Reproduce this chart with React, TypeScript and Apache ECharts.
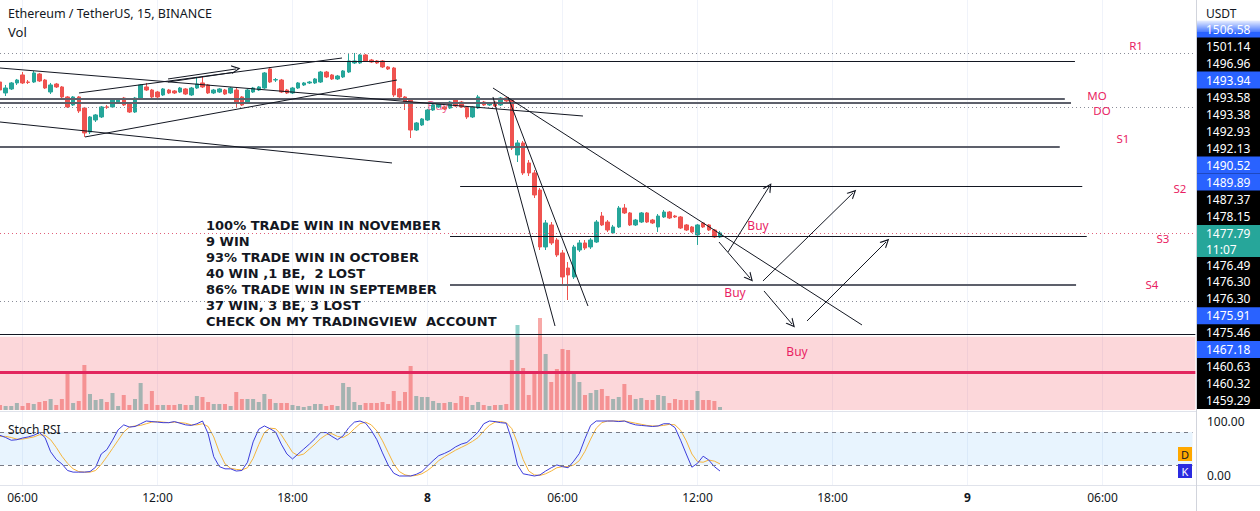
import React, { useEffect, useRef } from "react";
import * as echarts from "echarts";

const FONT = "'Noto Sans', 'DejaVu Sans', sans-serif";
const NOTE_FONT = "'DejaVu Sans', 'Noto Sans', sans-serif";

// 15-minute candles, 7th 05:00 -> 8th 13:00 : [open, close, low, high]
const candles: number[][] = [
  [1496.65, 1495.65, 1495.53, 1497.03], [1495.28, 1495.90, 1494.90, 1496.28], [1495.78, 1496.53, 1495.65, 1496.65],
  [1496.53, 1496.90, 1496.28, 1497.03], [1497.53, 1496.53, 1496.40, 1497.90], [1496.65, 1496.60, 1496.40, 1496.90],
  [1496.65, 1497.78, 1496.53, 1498.03], [1497.65, 1496.78, 1496.65, 1497.78], [1496.90, 1495.90, 1495.78, 1497.03],
  [1495.40, 1496.28, 1495.15, 1496.53], [1496.40, 1496.03, 1495.90, 1496.53], [1496.03, 1494.78, 1494.65, 1496.15],
  [1494.78, 1493.53, 1493.40, 1494.90], [1493.78, 1494.78, 1493.65, 1494.90], [1494.78, 1493.03, 1492.78, 1494.90],
  [1493.40, 1490.28, 1489.78, 1493.53], [1490.40, 1492.28, 1490.15, 1492.40], [1491.90, 1492.53, 1491.65, 1492.65],
  [1492.28, 1493.53, 1492.15, 1493.65], [1493.53, 1493.50, 1493.28, 1493.78], [1493.53, 1494.53, 1493.40, 1494.65],
  [1494.03, 1494.53, 1493.90, 1494.65], [1494.65, 1493.78, 1493.65, 1494.78], [1494.03, 1492.90, 1492.78, 1494.15],
  [1492.90, 1494.65, 1492.78, 1494.78], [1494.65, 1496.28, 1494.53, 1496.40], [1496.03, 1495.65, 1495.53, 1496.53],
  [1495.65, 1494.78, 1494.65, 1495.78], [1495.40, 1494.78, 1494.65, 1495.53], [1495.03, 1495.78, 1494.90, 1495.90],
  [1495.65, 1495.28, 1495.15, 1495.78], [1495.53, 1495.28, 1495.15, 1495.65], [1495.40, 1495.90, 1495.28, 1496.03],
  [1495.78, 1495.15, 1495.03, 1495.90], [1495.03, 1495.90, 1494.90, 1496.03], [1495.90, 1496.40, 1495.78, 1497.28],
  [1496.53, 1496.03, 1495.90, 1497.28], [1496.28, 1495.28, 1495.15, 1496.40], [1495.28, 1495.65, 1495.15, 1495.78],
  [1495.40, 1495.78, 1495.28, 1495.90], [1495.65, 1495.15, 1495.03, 1495.78], [1495.28, 1495.90, 1495.15, 1496.03],
  [1495.65, 1494.15, 1493.53, 1495.90], [1494.78, 1493.78, 1493.65, 1494.90], [1494.15, 1495.65, 1494.03, 1495.78],
  [1495.40, 1495.90, 1495.28, 1496.03], [1495.65, 1496.03, 1495.53, 1496.15], [1495.90, 1497.78, 1495.78, 1497.90],
  [1498.28, 1496.65, 1496.53, 1498.53], [1496.90, 1496.95, 1496.65, 1497.15], [1496.90, 1495.40, 1495.28, 1497.03],
  [1495.65, 1495.28, 1495.15, 1495.78], [1495.28, 1495.90, 1495.15, 1496.03], [1495.90, 1496.53, 1495.78, 1496.65],
  [1496.28, 1496.53, 1496.15, 1496.65], [1496.53, 1496.65, 1496.40, 1496.78], [1496.53, 1497.03, 1496.40, 1497.15],
  [1496.65, 1497.90, 1496.53, 1498.03], [1497.90, 1497.28, 1497.15, 1498.03], [1497.53, 1497.03, 1496.90, 1497.65],
  [1497.03, 1497.40, 1496.90, 1497.53], [1497.28, 1498.03, 1497.15, 1498.15], [1497.90, 1499.28, 1497.78, 1500.28],
  [1499.03, 1499.28, 1498.90, 1500.28], [1499.03, 1500.03, 1498.90, 1500.15], [1500.03, 1499.28, 1499.15, 1500.15],
  [1499.40, 1499.15, 1499.03, 1499.53], [1499.28, 1499.03, 1498.90, 1499.40], [1499.28, 1498.53, 1498.40, 1499.40],
  [1498.53, 1498.28, 1498.15, 1498.65], [1498.40, 1495.03, 1494.78, 1498.53], [1495.78, 1494.78, 1494.65, 1495.90],
  [1494.78, 1494.15, 1493.15, 1494.90], [1494.40, 1490.65, 1489.65, 1494.53], [1490.65, 1491.53, 1490.53, 1491.65],
  [1491.28, 1492.03, 1491.15, 1492.15], [1491.90, 1493.15, 1491.78, 1493.28], [1493.15, 1493.78, 1493.03, 1493.90],
  [1493.53, 1493.90, 1493.40, 1494.03], [1493.53, 1493.28, 1493.15, 1493.65], [1493.40, 1494.15, 1493.28, 1494.28],
  [1494.40, 1493.65, 1493.53, 1494.53], [1494.15, 1493.53, 1493.40, 1494.28], [1493.53, 1492.28, 1492.03, 1493.65],
  [1492.28, 1493.53, 1492.15, 1493.65], [1493.40, 1494.78, 1493.28, 1495.03], [1494.15, 1493.78, 1493.65, 1494.28],
  [1493.78, 1494.03, 1493.65, 1494.15], [1494.15, 1493.65, 1493.53, 1494.28], [1493.78, 1494.65, 1493.65, 1494.78],
  [1494.65, 1494.28, 1494.15, 1494.78], [1494.40, 1488.40, 1488.15, 1494.53], [1487.53, 1489.03, 1486.65, 1489.40],
  [1489.03, 1485.28, 1485.03, 1489.28], [1486.53, 1485.28, 1484.90, 1486.90], [1485.28, 1482.53, 1482.15, 1485.65],
  [1483.15, 1476.03, 1475.65, 1483.40], [1476.03, 1479.03, 1475.65, 1479.40], [1478.78, 1476.53, 1476.28, 1479.15],
  [1476.90, 1475.03, 1474.78, 1477.15], [1475.28, 1472.28, 1471.40, 1475.65], [1473.40, 1472.53, 1469.40, 1474.15],
  [1472.28, 1476.03, 1472.03, 1476.28], [1475.65, 1476.53, 1475.40, 1476.90], [1476.53, 1475.90, 1475.65, 1476.90],
  [1476.03, 1476.90, 1475.78, 1477.15], [1476.65, 1479.15, 1476.53, 1479.40], [1479.90, 1478.78, 1478.65, 1480.40],
  [1479.15, 1478.15, 1477.90, 1479.40], [1477.78, 1478.53, 1477.65, 1478.78], [1478.53, 1480.90, 1478.40, 1481.15],
  [1480.90, 1480.28, 1480.15, 1481.40], [1480.28, 1478.78, 1478.65, 1480.40], [1478.78, 1479.40, 1478.65, 1479.53],
  [1479.15, 1480.28, 1479.03, 1480.40], [1480.28, 1479.15, 1479.03, 1480.40], [1479.40, 1479.03, 1478.90, 1479.53],
  [1478.53, 1479.90, 1477.90, 1480.15], [1479.78, 1480.40, 1479.65, 1480.65], [1480.40, 1479.65, 1479.53, 1480.53],
  [1479.90, 1479.78, 1479.65, 1480.03], [1479.78, 1478.40, 1478.28, 1479.90], [1478.78, 1478.15, 1478.03, 1478.90],
  [1478.53, 1477.90, 1477.78, 1478.65], [1477.53, 1478.78, 1476.28, 1478.90], [1479.03, 1478.53, 1478.40, 1479.15],
  [1478.78, 1478.15, 1478.03, 1478.90], [1478.15, 1477.28, 1477.15, 1478.28], [1477.28, 1477.79, 1477.15, 1478.03],
];

// volume per candle (hundreds of ETH)
const volumes: number[] = [
  5, 4, 4, 7, 4, 7, 6, 8, 9, 11, 5, 11, 37, 7, 9, 45, 16, 10, 11, 8,
  17, 4, 15, 5, 11, 27, 6, 19, 5, 5, 5, 5, 6, 5, 5, 14, 13, 8, 6, 6,
  6, 4, 18, 11, 11, 11, 8, 16, 11, 7, 7, 7, 5, 4, 3, 4, 6, 6, 4, 5,
  4, 27, 23, 8, 5, 7, 7, 7, 8, 6, 19, 9, 18, 44, 14, 13, 13, 9, 7, 7,
  8, 7, 14, 13, 5, 8, 5, 4, 5, 5, 6, 50, 85, 42, 15, 37, 92, 56, 28, 41,
  61, 60, 36, 28, 15, 17, 20, 21, 14, 11, 13, 26, 15, 11, 12, 10, 10, 15, 14, 7,
  11, 10, 10, 10, 19, 10, 10, 9, 3,
];

const stochK: number[] = [
  74, 70, 65, 66, 69, 71, 74, 79, 70, 44, 30, 22, 10, 7, 7, 7, 8, 16, 40, 48,
  65, 84, 93, 89, 90, 95, 100, 99, 98, 97, 97, 99, 96, 93, 92, 95, 100, 77, 35, 17,
  13, 13, 9, 10, 25, 62, 85, 91, 86, 80, 58, 40, 31, 40, 49, 58, 68, 79, 79, 72,
  66, 73, 88, 98, 100, 96, 83, 66, 42, 20, 5, 0, 0, 0, 3, 8, 18, 28, 37, 41,
  46, 53, 58, 61, 70, 80, 95, 100, 99, 97, 96, 65, 20, 4, 2, 0, 2, 9, 15, 20,
  17, 15, 27, 41, 68, 92, 100, 100, 100, 100, 99, 100, 96, 93, 92, 91, 90, 91, 95, 95,
  88, 65, 40, 16, 23, 36, 29, 17, 9,
];
const stochD: number[] = [
  72, 72, 70, 67, 67, 69, 71, 75, 74, 66, 52, 36, 23, 13, 8, 7, 7, 10, 21, 35,
  50, 65, 80, 89, 91, 92, 95, 98, 99, 98, 97, 98, 97, 96, 93, 93, 95, 90, 71, 43,
  22, 14, 12, 11, 15, 32, 57, 79, 87, 86, 75, 59, 43, 37, 40, 49, 58, 68, 75, 77,
  72, 70, 76, 86, 95, 98, 93, 82, 64, 43, 22, 8, 2, 0, 1, 4, 10, 18, 28, 35,
  41, 47, 52, 57, 63, 70, 82, 92, 98, 99, 97, 86, 60, 30, 9, 2, 1, 4, 9, 15,
  17, 17, 20, 28, 45, 67, 87, 97, 100, 100, 100, 100, 98, 96, 94, 92, 91, 91, 92, 94,
  93, 83, 64, 40, 26, 25, 29, 27, 22,
];

const tickIndex = [4, 28, 52, 76, 100, 124, 148, 172, 196];
const tickLabels = ["06:00", "12:00", "18:00", "8", "06:00", "12:00", "18:00", "9", "06:00"];
const SLOTS = 213;

// drawings: horizontal levels [startIndex, endIndex, price]
const solidLevels = [[0, 191.1, 1499.28], [81.8, 192.4, 1483.65], [80, 193.2, 1477.4], [0, 212.5, 1465.1]];
const greyLevels = [[0, 189.3, 1494.53], [0, 190.4, 1494.03], [0, 188.4, 1488.53], [80, 191.3, 1471.28]];
const dottedLevels = [[0, 212.5, 1500.28], [0, 212.5, 1493.53], [0, 212.5, 1469.28]];
const priceLevel = [[0, 212.5, 1477.78]];
const redLevel = [[0, 212.5, 1460.4]];
const zoneBox = [[0, 1464.8, 212.5, 1455.65]];
// trend lines [[index, price], [index, price]]
const trendLines = [
  [[0, 1498.4], [103.64, 1492.4]],
  [[0, 1491.65], [69.69, 1486.53]],
  [[15.11, 1489.78], [70.58, 1496.9]],
  [[14.04, 1495.28], [60.8, 1499.65]],
  [[29.87, 1496.65], [41.42, 1497.84]],
  [[87.64, 1495.9], [153.24, 1466.28]],
  [[87.64, 1494.78], [98.67, 1466.15]],
  [[90.31, 1494.78], [104.53, 1468.65]],
];
const arrowLines = [
  [[29.87, 1497.03], [41.96, 1498.28]],
  [[129.42, 1475.4], [136.71, 1483.53]],
  [[135.64, 1471.78], [151.64, 1482.78]],
  [[143.47, 1466.78], [157.51, 1476.65]],
  [[127.82, 1476.65], [133.33, 1472.15]],
  [[135.82, 1470.53], [140.8, 1466.4]],
];

const noteLines = [
  "100% TRADE WIN IN NOVEMBER",
  "9 WIN",
  "93% TRADE WIN IN OCTOBER",
  "40 WIN ,1 BE,  2 LOST",
  "86% TRADE WIN IN SEPTEMBER",
  "37 WIN, 3 BE, 3 LOST",
  "CHECK ON MY TRADINGVIEW  ACCOUNT",
];
const buyLabels = [[758, 225], [735, 292], [797, 351]];
const pivotLabels: [string, number, number][] = [
  ["R1", 1136, 45], ["MO", 1097, 95], ["DO", 1102, 110.5], ["S1", 1123, 138],
  ["S2", 1180, 188], ["S3", 1163, 238], ["S4", 1152, 284],
];
const axisTagsTop = ["1506.58", "1501.14", "1496.96", "1493.94", "1493.58", "1493.38", "1492.93", "1492.13", "1490.52", "1489.89", "1487.37", "1478.15"];
const axisTagsTopBlue = [true, false, false, true, false, false, false, false, true, true, false, false];
const axisTagsBottom = ["1476.49", "1476.30", "1476.30", "1475.91", "1475.46", "1467.18", "1460.63", "1460.32", "1459.29"];
const axisTagsBottomBlue = [false, false, false, true, false, true, false, false, false];
const lastPrice = "1477.79";
const countdown = "11:07";

const UP = "#26a69a";
const DOWN = "#ef5350";
const PLOT_W = 1192.5;
const PINK = "#e91e63";

function buildOption() {
  const categories = Array.from({ length: SLOTS }, (_, i) => {
    const m = 300 + 15 * i;
    const d = 7 + Math.floor(m / 1440);
    const mm = m % 1440;
    return `${d} ${String(Math.floor(mm / 60)).padStart(2, "0")}:${String(mm % 60).padStart(2, "0")}`;
  });
  const isTick = (i: number) => tickIndex.indexOf(i) >= 0;
  const levelData = (arr: number[][]) => arr.map((l) => ({ coords: [[l[0], l[2]], [l[1], l[2]]] }));
  const linesBase = {
    type: "lines",
    coordinateSystem: "cartesian2d",
    xAxisIndex: 3,
    yAxisIndex: 0,
    silent: true,
    clip: false,
    z: 5,
  };
  const graphic: any[] = [];
  const txt = (text: string, x: number, y: number, fill: string, font: string, align = "left", z = 20) =>
    graphic.push({ type: "text", x, y, z, style: { text, fill, font, align, verticalAlign: "middle" } });

  txt("Ethereum / TetherUS, 15, BINANCE", 8, 13, "#131722", `12.5px ${FONT}`);
  txt("Vol", 8, 32, "#131722", `13px ${FONT}`);
  txt("Stoch RSI", 8, 429, "#131722", `12px ${FONT}`);
  noteLines.forEach((t, i) => txt(t, 206, 225 + 16 * i, "#131722", `bold 13px ${NOTE_FONT}`));
  buyLabels.forEach((b) => txt("Buy", b[0], b[1], PINK, `12px ${FONT}`, "center"));
  graphic.push({ type: "text", x: 438, y: 105, z: 1, style: { text: "Buy", fill: PINK, font: `12px ${FONT}`, align: "center", verticalAlign: "middle", opacity: 0.7 } });
  pivotLabels.forEach((p) => txt(p[0], p[1], p[2], PINK, `11.5px ${FONT}`, "center"));

  // separators
  graphic.push({ type: "line", z: 30, shape: { x1: 0, y1: 411.5, x2: 1197, y2: 411.5 }, style: { stroke: "#e0e3eb", lineWidth: 1 } });
  graphic.push({ type: "line", z: 30, shape: { x1: 0, y1: 485.5, x2: 1260, y2: 485.5 }, style: { stroke: "#e0e3eb", lineWidth: 1 } });
  graphic.push({ type: "line", z: 30, shape: { x1: 1196.5, y1: 0, x2: 1196.5, y2: 511 }, style: { stroke: "#d1d4dc", lineWidth: 1 } });

  // right price tags
  txt("USDT", 1206, 13, "#131722", `12px ${FONT}`);
  graphic.push({ type: "rect", z: 40, shape: { x: 1197, y: 21, width: 63, height: 388 }, style: { fill: "#000000" } });
  axisTagsTop.forEach((t, i) => {
    const y = 29 + 17 * i;
    if (axisTagsTopBlue[i]) graphic.push({ type: "rect", z: 41, shape: { x: 1197, y: y - 8.5, width: 63, height: 17 }, style: { fill: "#2962ff" } });
    txt(t, 1206, y, "#ffffff", `12px ${FONT}`, "left", 42);
  });
  graphic.push({ type: "rect", z: 41, shape: { x: 1197, y: 225, width: 63, height: 32 }, style: { fill: UP } });
  txt(lastPrice, 1206, 233, "#ffffff", `12px ${FONT}`, "left", 42);
  txt(countdown, 1206, 249, "#ffffff", `12px ${FONT}`, "left", 42);
  axisTagsBottom.forEach((t, i) => {
    const y = 265 + 16.9 * i;
    if (axisTagsBottomBlue[i]) graphic.push({ type: "rect", z: 41, shape: { x: 1197, y: y - 8.5, width: 63, height: 17 }, style: { fill: "#2962ff" } });
    txt(t, 1206, y, "#ffffff", `12px ${FONT}`, "left", 42);
  });
  graphic.push({
    type: "rect", z: 43, shape: { x: 1197, y: 19, width: 63, height: 13 },
    style: { fill: new echarts.graphic.LinearGradient(0, 0, 0, 1, [{ offset: 0, color: "rgba(255,255,255,1)" }, { offset: 1, color: "rgba(255,255,255,0.15)" }]) },
  });
  // D / K badges
  graphic.push({ type: "rect", z: 40, shape: { x: 1178, y: 447, width: 14, height: 14 }, style: { fill: "#ffa800" } });
  txt("D", 1185, 454, "#131722", `11px ${FONT}`, "center", 41);
  graphic.push({ type: "rect", z: 40, shape: { x: 1178, y: 464, width: 14, height: 14 }, style: { fill: "#2b2be0" } });
  txt("K", 1185, 471, "#ffffff", `11px ${FONT}`, "center", 41);

  const splitV = { show: true, interval: (i: number) => isTick(i), lineStyle: { color: "#f0f3fa", width: 1 } };

  return {
    animation: false,
    backgroundColor: "#ffffff",
    textStyle: { fontFamily: FONT },
    grid: [
      { left: 0, top: 0, width: PLOT_W, height: 411 },
      { left: 0, top: 311, width: PLOT_W, height: 99 },
      { left: 0, top: 412, width: PLOT_W, height: 73 },
    ],
    xAxis: [
      { type: "category", gridIndex: 0, data: categories, boundaryGap: false, axisLine: { show: false }, axisTick: { show: false }, axisLabel: { show: false }, splitLine: splitV },
      { type: "category", gridIndex: 1, data: categories, boundaryGap: false, axisLine: { show: false }, axisTick: { show: false }, axisLabel: { show: false }, splitLine: { show: false } },
      {
        type: "category", gridIndex: 2, data: categories, boundaryGap: false,
        axisLine: { show: false }, axisTick: { show: false }, splitLine: splitV,
        axisLabel: {
          interval: (i: number) => isTick(i),
          margin: 6,
          color: "#131722",
          fontSize: 12,
          fontFamily: FONT,
          formatter: (_v: string, i: number) => {
            const k = tickIndex.indexOf(i);
            if (k < 0) return "";
            const s = tickLabels[k];
            return s.length <= 2 ? `{b|${s}}` : s;
          },
          rich: { b: { fontWeight: "bold", fontSize: 12, color: "#131722", fontFamily: FONT } },
        },
      },
      { type: "value", gridIndex: 0, min: 0, max: SLOTS - 1, show: false },
    ],
    yAxis: [
      { type: "value", gridIndex: 0, min: 1455.525, max: 1506.9, show: false, splitLine: { show: false } },
      { type: "value", gridIndex: 1, min: 0, max: 99, show: false, splitLine: { show: false } },
      {
        type: "value", gridIndex: 2, min: -16.4, max: 116.4, position: "right",
        axisLine: { show: false }, axisTick: { show: false }, splitLine: { show: false },
        axisLabel: { customValues: [0, 100], formatter: (v: number) => v.toFixed(2), margin: 14.5, color: "#131722", fontSize: 12, fontFamily: FONT },
      },
    ],
    graphic,
    series: [
      {
        type: "candlestick", xAxisIndex: 0, yAxisIndex: 0, data: candles, barWidth: 4, z: 3,
        itemStyle: { color: UP, color0: DOWN, borderColor: UP, borderColor0: DOWN, borderWidth: 1 },
      },
      {
        type: "bar", xAxisIndex: 1, yAxisIndex: 1, barWidth: 4, z: 2,
        data: volumes.map((v, i) => ({
          value: v,
          itemStyle: { color: candles[i][1] >= candles[i][0] ? "rgba(38,166,154,0.5)" : "rgba(239,83,80,0.5)" },
        })),
      },
      {
        type: "custom", xAxisIndex: 3, yAxisIndex: 0, silent: true, z: 4, clip: false,
        data: zoneBox,
        renderItem: (_p: any, api: any) => {
          const a = api.coord([api.value(0), api.value(1)]);
          const b = api.coord([api.value(2), api.value(3)]);
          return { type: "rect", shape: { x: a[0], y: a[1], width: b[0] - a[0], height: b[1] - a[1] }, style: { fill: "rgba(242,54,69,0.2)" } };
        },
      },
      { ...linesBase, data: levelData(solidLevels), lineStyle: { color: "#131722", width: 1.2, opacity: 1 } },
      { ...linesBase, data: levelData(greyLevels), lineStyle: { color: "#5d606b", width: 1.8, opacity: 1 } },
      { ...linesBase, data: levelData(dottedLevels), lineStyle: { color: "#8a8d99", width: 1, type: [1, 3], opacity: 1 } },
      { ...linesBase, data: levelData(priceLevel), lineStyle: { color: "#e0607a", width: 1, type: [1, 3], opacity: 1 } },
      { ...linesBase, data: levelData(redLevel), lineStyle: { color: "#e2265e", width: 3, opacity: 1 } },
      { ...linesBase, data: trendLines.map((t) => ({ coords: t })), lineStyle: { color: "#131722", width: 1, opacity: 1 } },
      {
        ...linesBase, data: arrowLines.map((t) => ({ coords: t })),
        symbol: ["none", "path://M5,0 L10,9 L8.6,9 L5,2.6 L1.4,9 L0,9 Z"], symbolSize: 9,
        lineStyle: { color: "#131722", width: 1, opacity: 1 },
      },
      {
        type: "line", xAxisIndex: 2, yAxisIndex: 2, data: stochK, symbol: "none", z: 3,
        lineStyle: { color: "#3d3ddb", width: 1 },
        markArea: { silent: true, itemStyle: { color: "rgba(33,150,243,0.1)" }, data: [[{ yAxis: 20 }, { yAxis: 80 }]] },
        markLine: {
          silent: true, symbol: "none", label: { show: false },
          lineStyle: { color: "#787b86", type: [4, 4], width: 1 },
          data: [{ yAxis: 80 }, { yAxis: 20 }],
        },
      },
      { type: "line", xAxisIndex: 2, yAxisIndex: 2, data: stochD, symbol: "none", z: 2, lineStyle: { color: "#f5b43c", width: 1 } },
    ],
  };
}

export default function App() {
  const ref = useRef<HTMLDivElement>(null);
  useEffect(() => {
    if (!ref.current) return;
    const chart = echarts.init(ref.current, undefined, { renderer: "svg" });
    chart.setOption(buildOption() as any);
    return () => chart.dispose();
  }, []);
  return <div ref={ref} style={{ position: "fixed", left: 0, top: 0, width: 1260, height: 511, background: "#fff" }} />;
}
